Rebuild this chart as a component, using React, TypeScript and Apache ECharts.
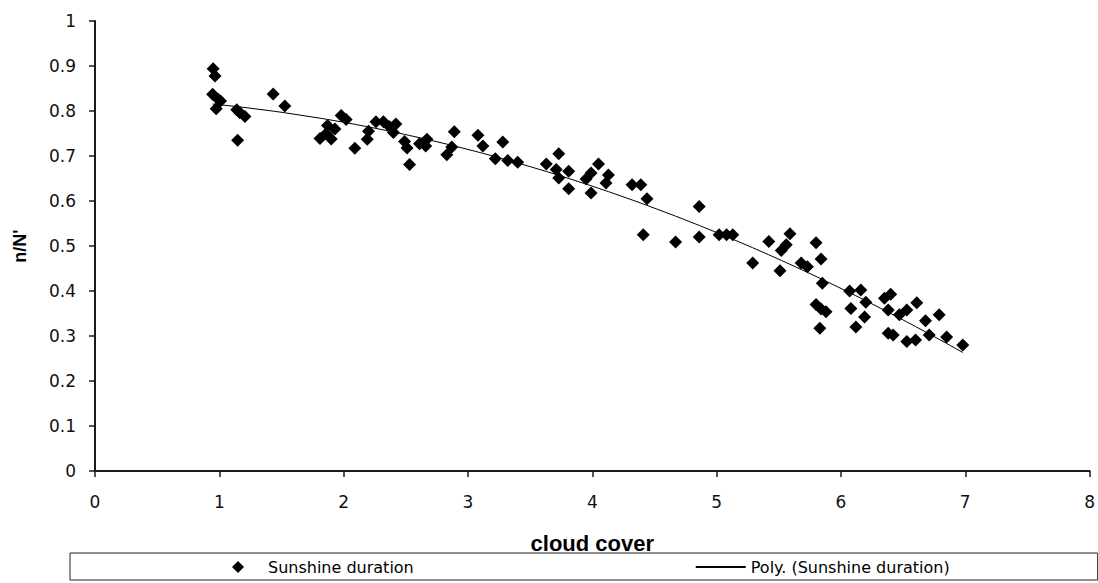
import React, { useEffect, useRef } from "react";
import * as echarts from "echarts";

// Observed points: cloud cover (oktas) vs. relative sunshine duration n/N'
const cloudCover: number[] = [
  0.95, 0.965, 0.946, 0.99, 1.01, 0.975, 1.14, 1.165, 1.206, 1.147, 1.433, 1.527,
  1.81, 1.86, 1.87, 1.9, 1.93, 1.98, 2.02, 2.09, 2.19, 2.2, 2.26, 2.32, 2.37, 2.42, 2.4, 2.49, 2.51, 2.53, 2.61, 2.67, 2.66, 2.83, 2.87, 2.89,
  3.08, 3.12, 3.28, 3.22, 3.32, 3.4, 3.63, 3.73, 3.71, 3.73, 3.81, 3.81, 3.95, 3.99, 4.05, 3.99, 4.13, 4.11,
  4.32, 4.39, 4.44, 4.41, 4.67, 4.86, 4.86, 5.02, 5.08, 5.13, 5.29,
  5.42, 5.59, 5.56, 5.52, 5.51, 5.8, 5.84, 5.68, 5.73, 5.85, 5.8, 5.84, 5.88, 5.83,
  6.07, 6.16, 6.2, 6.08, 6.19, 6.12, 6.35, 6.4, 6.38, 6.47, 6.53, 6.61, 6.68, 6.79, 6.38, 6.42, 6.53, 6.6, 6.71, 6.85, 6.98,
];
const sunshineRatio: number[] = [
  0.894, 0.878, 0.837, 0.826, 0.822, 0.805, 0.803, 0.796, 0.788, 0.735, 0.838, 0.811,
  0.739, 0.75, 0.768, 0.738, 0.76, 0.79, 0.781, 0.717, 0.737, 0.755, 0.776, 0.776, 0.765, 0.771, 0.752, 0.732, 0.718, 0.681, 0.727, 0.737, 0.722, 0.703, 0.72, 0.754,
  0.746, 0.722, 0.731, 0.694, 0.69, 0.686, 0.682, 0.705, 0.67, 0.651, 0.666, 0.627, 0.649, 0.662, 0.682, 0.618, 0.658, 0.64,
  0.636, 0.636, 0.605, 0.525, 0.509, 0.588, 0.52, 0.525, 0.525, 0.525, 0.462,
  0.51, 0.527, 0.503, 0.49, 0.445, 0.507, 0.471, 0.462, 0.454, 0.417, 0.37, 0.36, 0.354, 0.317,
  0.4, 0.402, 0.375, 0.361, 0.342, 0.32, 0.384, 0.393, 0.358, 0.347, 0.358, 0.374, 0.334, 0.347, 0.306, 0.302, 0.288, 0.291, 0.302, 0.298, 0.28,
];

const seriesNames = ["Sunshine duration", "Poly. (Sunshine duration)"];
const xAxisTitle = "cloud cover";
const yAxisTitle = "n/N'";

// Least-squares 2nd order polynomial (Excel "Poly." trendline) fitted to the data
function fitQuadratic(xs: number[], ys: number[]): number[] {
  const S = [0, 0, 0, 0, 0];
  const T = [0, 0, 0];
  for (let i = 0; i < xs.length; i++) {
    let p = 1;
    for (let k = 0; k < 5; k++) {
      S[k] += p;
      if (k < 3) T[k] += p * ys[i];
      p *= xs[i];
    }
  }
  const M = [
    [S[0], S[1], S[2], T[0]],
    [S[1], S[2], S[3], T[1]],
    [S[2], S[3], S[4], T[2]],
  ];
  for (let c = 0; c < 3; c++) {
    let piv = c;
    for (let r = c + 1; r < 3; r++) if (Math.abs(M[r][c]) > Math.abs(M[piv][c])) piv = r;
    [M[c], M[piv]] = [M[piv], M[c]];
    for (let r = 0; r < 3; r++) {
      if (r === c) continue;
      const f = M[r][c] / M[c][c];
      for (let k = c; k < 4; k++) M[r][k] -= f * M[c][k];
    }
  }
  return [M[0][3] / M[0][0], M[1][3] / M[1][1], M[2][3] / M[2][2]];
}

export default function App() {
  const ref = useRef<HTMLDivElement>(null);
  useEffect(() => {
    if (!ref.current) return;
    const chart = echarts.init(ref.current, null, { renderer: "svg" });
    const scatterData = cloudCover.map((x, i) => [x, sunshineRatio[i]]);
    const [a, b, c] = fitQuadratic(cloudCover, sunshineRatio);
    const xsSorted = Array.from(new Set(cloudCover)).sort((p, q) => p - q);
    const trendData = xsSorted.map((x) => [x, a + b * x + c * x * x]);

    const axisLine = { show: true, lineStyle: { color: "#1a1a1a", width: 2 } };
    const axisTick = { show: true, length: 6, inside: false, lineStyle: { color: "#1a1a1a", width: 1.5 } };
    const labelStyle = { color: "#111", fontFamily: "DejaVu Sans", fontSize: 17 };

    chart.setOption({
      animation: false,
      backgroundColor: "#fff",
      grid: { left: 95, right: 8, top: 21, bottom: 112, containLabel: false },
      xAxis: {
        type: "value",
        min: 0,
        max: 8,
        interval: 1,
        axisLine,
        axisTick,
        splitLine: { show: false },
        axisLabel: { ...labelStyle, margin: 22 },
        name: xAxisTitle,
        nameLocation: "middle",
        nameGap: 61,
        nameTextStyle: { color: "#000", fontFamily: "Liberation Sans", fontWeight: "bold", fontSize: 22 },
      },
      yAxis: {
        type: "value",
        min: 0,
        max: 1,
        interval: 0.1,
        axisLine,
        axisTick,
        splitLine: { show: false },
        axisLabel: { ...labelStyle, margin: 19, formatter: (v: number) => String(Math.round(v * 10) / 10) },
        name: yAxisTitle,
        nameLocation: "middle",
        nameGap: 66,
        nameTextStyle: { color: "#000", fontFamily: "Liberation Sans", fontWeight: "bold", fontSize: 18 },
      },
      legend: {
        left: 70,
        top: 553,
        width: 800,
        orient: "horizontal",
        borderColor: "#222",
        borderWidth: 1,
        padding: [6, 148, 5, 162],
        itemWidth: 50,
        itemHeight: 12,
        itemGap: 281,
        textStyle: { fontFamily: "DejaVu Sans", fontSize: 16, color: "#000" },
        data: [
          { name: seriesNames[0], icon: "path://M0,-1L1,0L0,1L-1,0Z", itemStyle: { color: "#000", opacity: 1 } },
          { name: seriesNames[1], itemStyle: { color: "rgba(0,0,0,0)", borderWidth: 0, opacity: 0 } },
        ],
      },
      series: [
        {
          name: seriesNames[0],
          type: "scatter",
          symbol: "diamond",
          symbolSize: 13,
          itemStyle: { color: "#000", opacity: 1 },
          data: scatterData,
          z: 3,
        },
        {
          name: seriesNames[1],
          type: "line",
          symbol: "none",
          showSymbol: false,
          lineStyle: { color: "#000", width: 1 },
          itemStyle: { color: "#000" },
          data: trendData,
          z: 4,
        },
      ],
    });
    return () => chart.dispose();
  }, []);
  return (
    <div
      ref={ref}
      style={{ position: "fixed", left: 0, top: 0, width: 1098, height: 583, background: "#fff" }}
    />
  );
}
